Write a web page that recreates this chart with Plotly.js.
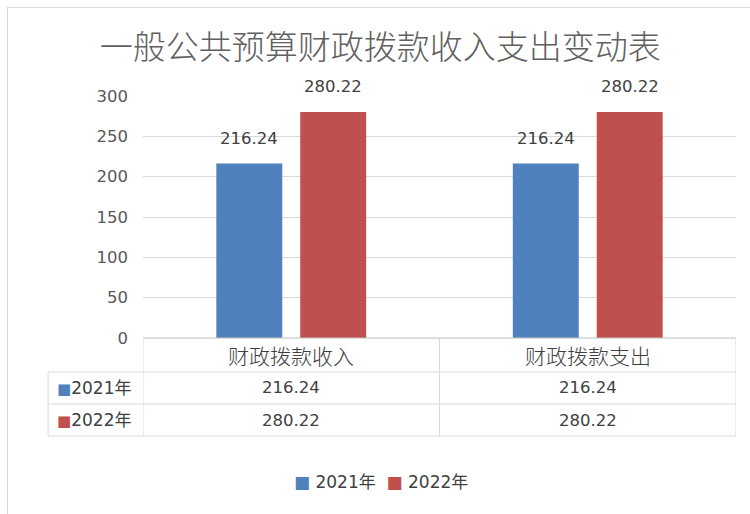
<!DOCTYPE html>
<html>
<head>
<meta charset="utf-8">
<script src="https://cdn.plot.ly/plotly-3.0.1.min.js"></script>
<style>
html,body{margin:0;padding:0;background:#fff;}
#frame{position:absolute;left:7px;top:7px;width:760px;height:520px;border-top:1px solid #d9d9d9;border-left:1px solid #d9d9d9;pointer-events:none;}
#chart{width:750px;height:514px;}
</style>
</head>
<body>
<div id="chart"></div>
<div id="frame"></div>
<script>
const categories = ['财政拨款收入', '财政拨款支出'];
const seriesNames = ['2021年', '2022年'];
const values2021 = [216.24, 216.24];
const values2022 = [280.22, 280.22];
const colors = ['#4f81bd', '#c0504d'];
const yTicks = [0, 50, 100, 150, 200, 250, 300];

const CJK = '"Noto Sans CJK SC", sans-serif';
const NUM = '"DejaVu Sans", "Noto Sans CJK SC", sans-serif';
const TXT = '#404040';
const GRID = '#d9d9d9';
const bargap = 0.434;
const bargroupgap = 0.214;

const series = [values2021, values2022];
const traces = series.map((vals, i) => ({
  type: 'bar',
  name: seriesNames[i],
  x: categories,
  y: vals,
  marker: {color: colors[i]},
  hoverinfo: 'none',
  showlegend: false
}));

const annotations = [];
const slot = (1 - bargap) / 2;
// data labels above bars
series.forEach((vals, s) => {
  vals.forEach((v, c) => {
    annotations.push({
      x: c + (s - 0.5) * slot, y: v, xref: 'x', yref: 'y',
      text: v.toFixed(2), showarrow: false, yanchor: 'bottom', yshift: 14,
      font: {family: NUM, size: 16.5, color: TXT}
    });
  });
});
// table: row boundaries in paper units (axis line, header bottom, row1 bottom, row2 bottom)
const rowLines = [0, -0.1405, -0.2727, -0.405];
const leftCol = -0.160;
categories.forEach((cat, c) => {
  annotations.push({
    x: c, y: (rowLines[0] + rowLines[1]) / 2, xref: 'x', yref: 'paper',
    text: cat, showarrow: false, yanchor: 'middle',
    font: {family: CJK, size: 21, color: TXT, weight: 300}
  });
  series.forEach((vals, s) => {
    annotations.push({
      x: c, y: (rowLines[s + 1] + rowLines[s + 2]) / 2, xref: 'x', yref: 'paper',
      text: vals[c].toFixed(2), showarrow: false, yanchor: 'middle',
      font: {family: NUM, size: 16.5, color: TXT}
    });
  });
});
seriesNames.forEach((n, s) => {
  annotations.push({
    x: leftCol + 0.012, y: (rowLines[s + 1] + rowLines[s + 2]) / 2, xref: 'paper', yref: 'paper',
    text: '<span style="color:' + colors[s] + '; font-size:15px">■</span>' + n,
    showarrow: false, xanchor: 'left', yanchor: 'middle',
    font: {family: NUM, size: 17, color: TXT}
  });
});
// legend (drawn as a centred line of keys)
annotations.push({
  x: 0.401, y: -0.595, xref: 'paper', yref: 'paper',
  text: seriesNames.map((n, s) => '<span style="color:' + colors[s] + '; font-size:17px">■</span> ' + n).join('  '),
  showarrow: false, xanchor: 'center', yanchor: 'middle',
  font: {family: NUM, size: 17, color: TXT}
});

const lineStyle = {color: GRID, width: 1};
const shapes = [];
shapes.push({type: 'line', xref: 'paper', yref: 'paper', x0: 0, x1: 1, y0: 0, y1: 0, line: {color: '#bfbfbf', width: 1}});
for (let k = 1; k < rowLines.length; k++) {
  shapes.push({type: 'line', xref: 'paper', yref: 'paper', x0: leftCol, x1: 1, y0: rowLines[k], y1: rowLines[k], line: lineStyle});
}
[-0.5, 0.5, 1.5].forEach(xv => {
  shapes.push({type: 'line', xref: 'x', yref: 'paper', x0: xv, x1: xv, y0: 0, y1: rowLines[3], line: lineStyle});
});
shapes.push({type: 'line', xref: 'paper', yref: 'paper', x0: leftCol, x1: leftCol, y0: rowLines[1], y1: rowLines[3], line: lineStyle});

const layout = {
  width: 750, height: 514,
  margin: {l: 143, r: 14, t: 96, b: 176},
  paper_bgcolor: 'rgba(0,0,0,0)',
  plot_bgcolor: 'rgba(0,0,0,0)',
  title: {
    text: '一般公共预算财政拨款收入支出变动表',
    font: {family: CJK, size: 33, color: '#606060', weight: 300},
    x: 0.507, xanchor: 'center', y: 1 - 47 / 514, yanchor: 'middle', xref: 'container', yref: 'container'
  },
  barmode: 'group',
  bargap: bargap,
  bargroupgap: bargroupgap,
  xaxis: {
    type: 'category', range: [-0.5, 1.5], showticklabels: false, ticks: '',
    showgrid: false, zeroline: false, showline: false, fixedrange: true
  },
  yaxis: {
    range: [0, 300], tickvals: yTicks, ticktext: yTicks.map(String),
    showgrid: true, gridcolor: GRID, gridwidth: 1, zeroline: false, showline: false,
    ticks: '', ticklabelstandoff: 14,
    tickfont: {family: NUM, size: 16.5, color: '#595959'}, fixedrange: true
  },
  showlegend: false,
  annotations: annotations,
  shapes: shapes
};

Plotly.newPlot('chart', traces, layout, {displayModeBar: false, staticPlot: true});
</script>
</body>
</html>
